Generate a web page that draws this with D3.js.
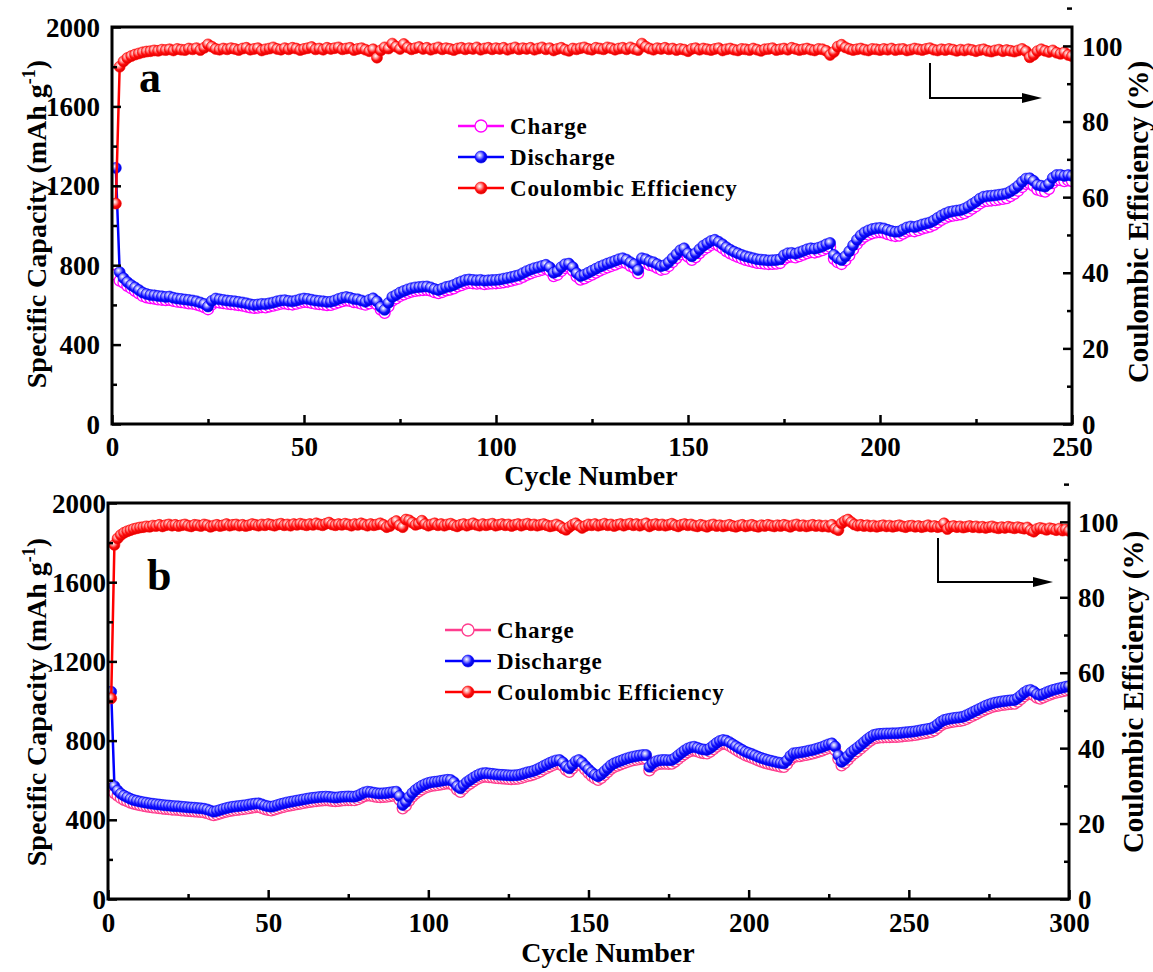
<!DOCTYPE html>
<html><head><meta charset="utf-8">
<script src="https://cdn.jsdelivr.net/npm/d3@7"></script>
<style>
html,body{margin:0;padding:0;background:#fff;}
text{font-family:"Liberation Serif","Times New Roman",serif;font-weight:bold;fill:#000;}
</style></head>
<body>
<svg id="chart" width="1153" height="972"></svg>
<script>
// ---------- DATA ----------
const seriesNames = ["Charge", "Discharge", "Coulombic Efficiency"];
const panelLabels = ["a", "b"];
const capTicks = [0, 400, 800, 1200, 1600, 2000];
const ceTicks = [0, 20, 40, 60, 80, 100];
const cycleTicksA = [0, 50, 100, 150, 200, 250];
const cycleTicksB = [0, 50, 100, 150, 200, 250, 300];

// Panel a (250 cycles)
const dischargeA = [1290,765,735,715,700,688,675,662,655,650,
648,645,643,640,642,636,632,630,627,625,
622,618,612,605,592,620,632,628,625,622,
620,618,615,612,608,603,600,602,605,604,
608,612,618,622,624,620,618,622,628,632,
630,626,622,620,618,615,616,622,630,636,
640,636,630,628,622,616,625,633,618,590,
575,610,640,650,662,670,678,684,688,690,
692,693,688,680,675,682,690,694,700,710,
718,725,728,726,724,726,722,724,725,726,
728,732,736,740,745,750,760,770,778,785,
790,796,802,790,762,770,790,805,808,790,
760,745,752,762,772,782,792,800,808,815,
822,830,835,828,815,805,776,835,830,820,
815,805,795,800,815,835,855,875,885,860,
845,860,880,898,910,922,928,918,905,890,
878,868,860,852,845,840,835,830,828,826,
824,825,826,830,850,860,862,858,865,872,
880,885,883,888,895,905,912,852,835,826,
845,870,900,928,950,965,975,982,986,988,
985,978,972,968,970,980,990,995,992,998,
1005,1010,1015,1025,1038,1050,1060,1068,1072,1075,
1078,1085,1095,1108,1120,1135,1145,1148,1150,1152,
1155,1158,1162,1172,1185,1200,1220,1236,1238,1225,
1205,1200,1196,1210,1240,1254,1255,1250,1254,1250];

const chargeA = [752,722,712,696,684,671,658,645,638,634,
632,628,626,624,625,620,616,614,611,608,
606,602,596,589,578,602,615,612,609,606,
604,602,599,596,592,588,585,586,589,588,
592,596,601,606,608,604,602,606,611,615,
614,610,606,604,602,599,600,606,613,619,
623,620,614,612,606,601,608,616,603,576,
560,592,622,633,645,653,661,667,671,673,
675,676,672,664,659,665,673,677,683,693,
700,707,711,709,707,709,705,707,708,709,
711,714,718,722,727,732,741,751,759,766,
771,777,783,772,745,752,771,786,790,773,
743,727,734,743,753,763,773,781,789,796,
803,811,816,810,797,787,760,815,812,802,
797,787,777,781,796,816,836,855,866,843,
827,841,861,878,890,902,908,899,886,871,
860,850,842,834,827,822,817,812,810,808,
806,807,808,811,831,841,843,839,846,853,
861,866,864,869,876,885,892,832,815,806,
825,849,879,907,929,944,954,961,965,967,
964,957,951,947,949,959,969,974,971,977,
984,989,994,1003,1016,1028,1038,1046,1050,1053,
1056,1062,1072,1085,1097,1111,1121,1124,1126,1128,
1131,1134,1138,1148,1160,1175,1194,1210,1212,1200,
1181,1175,1171,1185,1214,1228,1229,1224,1228,1224];

const ceA = [58.3,94.5,95.9,96.8,97.3,97.7,98.0,98.3,98.5,98.6,
98.8,98.7,99.0,98.9,99.1,98.8,99.2,99.0,98.9,99.3,
99.1,99.4,98.9,99.5,100.4,99.8,99.2,99.0,99.3,99.1,
99.4,99.2,98.9,99.3,99.5,99.0,99.2,99.4,98.8,99.1,
99.3,99.6,99.2,99.0,99.4,99.1,99.5,99.3,98.9,99.2,
99.4,99.7,99.1,99.3,99.0,99.5,99.2,99.4,99.6,99.1,
99.3,99.5,98.9,99.2,99.4,99.0,98.6,99.1,96.9,98.8,
99.6,99.3,100.6,99.8,99.2,100.5,99.6,99.1,99.4,99.7,
99.2,99.5,99.0,99.3,99.6,99.1,99.4,99.2,98.9,99.3,
99.5,99.1,99.4,99.2,99.6,99.0,99.3,99.5,99.1,99.4,
99.2,99.5,99.0,99.3,99.6,99.1,99.4,99.2,99.5,99.0,
99.3,99.6,99.1,99.4,98.8,99.2,99.5,99.0,98.7,99.3,
99.1,99.4,99.6,99.2,99.0,99.5,99.3,99.1,99.6,99.4,
99.0,99.3,99.5,99.1,99.6,99.2,98.9,100.6,99.8,99.3,
99.0,99.4,99.2,99.5,99.1,99.3,98.9,99.2,99.0,98.6,
99.2,99.4,99.0,99.3,99.1,98.9,99.2,99.4,98.8,99.1,
99.3,99.0,98.8,99.2,99.1,98.9,99.3,99.0,98.7,99.1,
99.2,99.4,98.9,99.1,99.3,99.0,99.5,99.2,98.9,99.1,
99.3,99.0,98.8,99.2,99.1,98.7,97.6,98.4,99.8,100.3,
99.6,99.2,98.9,99.1,99.3,99.0,98.8,99.2,99.1,98.9,
99.2,99.0,99.3,98.9,99.1,99.2,98.8,99.0,99.3,99.1,
98.9,99.2,99.4,99.0,98.8,99.1,98.9,99.2,99.0,98.7,
99.0,98.8,99.1,98.9,98.6,98.9,99.1,98.7,98.5,98.8,
99.0,98.6,98.9,98.7,98.5,98.8,99.2,98.6,97.0,97.6,
98.6,99.1,98.7,98.4,98.8,98.2,97.9,98.3,97.6,97.3];

// Panel b (300 cycles)
const dischargeB = [1047,570,548,532,522,514,506,500,496,492,
489,486,483,481,479,477,475,473,472,470,
469,468,466,465,463,462,461,459,458,456,
452,446,441,445,450,455,459,463,466,468,
470,472,474,477,480,482,483,478,472,468,
466,470,475,480,484,488,491,494,497,500,
503,506,509,511,513,515,516,517,516,514,
512,514,516,517,518,517,517,522,530,538,
542,540,537,534,533,534,535,538,540,542,
520,475,490,515,535,550,562,572,580,586,
590,592,594,597,600,602,601,590,570,559,
575,590,601,612,622,630,635,636,634,632,
630,628,627,626,625,624,625,626,630,635,
640,643,648,655,663,672,680,688,695,700,
702,690,670,660,678,695,702,690,672,655,
640,628,620,630,645,660,675,685,692,698,
704,710,715,719,722,725,727,727,668,685,
695,700,702,702,701,702,712,725,738,750,
760,766,769,764,758,755,753,762,775,788,
798,803,800,792,782,772,762,753,744,738,
732,725,718,712,707,702,698,694,690,687,
685,700,722,736,738,740,743,746,750,753,
758,763,768,775,781,786,770,725,693,705,
722,740,753,765,778,792,806,818,828,832,
834,835,836,836,837,837,838,840,842,843,
845,847,850,853,856,859,862,870,882,895,
904,908,911,914,916,918,921,928,936,944,
952,960,968,976,982,988,992,995,998,1000,
1002,1004,1005,1015,1028,1042,1052,1056,1048,1035,
1030,1036,1044,1050,1056,1060,1064,1068,1072,1075];

const chargeB = [557,535,522,510,501,494,487,482,478,474,
471,468,465,463,461,459,457,455,454,452,
451,450,448,447,445,444,443,441,440,438,
434,428,424,427,432,437,441,445,448,450,
452,454,456,459,462,464,465,460,454,450,
448,452,457,462,466,470,473,476,479,482,
485,488,491,493,495,497,498,499,498,496,
494,496,498,499,500,499,499,504,512,520,
524,522,519,516,515,516,517,520,522,524,
502,458,472,497,517,532,544,554,562,568,
572,574,576,579,582,584,583,572,552,541,
557,572,583,594,604,612,617,618,616,614,
612,610,609,608,607,606,607,608,612,617,
622,625,630,637,645,654,662,670,677,682,
684,672,652,642,660,677,684,672,654,637,
622,610,602,612,627,642,657,667,674,680,
686,692,697,701,704,707,709,709,650,667,
677,682,684,684,683,684,694,707,720,732,
742,748,751,746,740,737,735,744,757,770,
780,785,782,774,764,754,744,735,726,720,
714,707,700,694,689,684,680,676,672,669,
667,682,704,718,720,722,725,728,732,735,
740,745,750,757,763,768,752,707,675,687,
704,722,735,747,760,774,788,800,810,814,
816,817,818,818,819,819,820,822,824,825,
827,829,832,835,838,841,844,852,864,877,
886,890,893,896,898,900,903,910,918,926,
934,942,950,958,964,970,974,977,980,982,
984,986,987,997,1010,1024,1034,1038,1030,1017,
1012,1018,1026,1032,1038,1042,1046,1050,1054,1057];

const ceB = [53.2,93.9,95.6,96.5,97.1,97.5,97.8,98.1,98.3,98.5,
98.6,98.8,98.7,99.0,98.9,99.2,98.8,99.1,99.3,99.0,
99.2,98.9,99.1,99.3,99.0,98.8,99.2,99.1,98.9,99.3,
99.1,98.7,99.0,99.2,98.9,99.1,99.4,99.0,99.2,99.3,
99.0,99.2,98.9,99.1,99.4,99.2,99.0,99.3,99.1,99.4,
99.2,99.0,99.3,99.5,99.1,99.3,99.0,99.4,99.2,99.5,
99.3,99.1,99.4,99.2,99.6,99.3,99.1,99.5,99.8,99.3,
99.1,99.4,99.2,99.5,99.3,99.0,99.4,99.2,99.6,99.3,
99.0,99.4,99.1,99.3,99.6,99.2,98.6,98.9,99.7,100.2,
99.1,98.6,100.6,100.4,99.8,99.2,99.5,100.3,99.4,99.0,
99.3,99.6,99.1,99.4,99.0,99.3,99.5,99.1,98.8,99.2,
99.4,99.0,99.3,99.6,99.2,99.0,99.4,99.1,99.3,99.5,
99.0,99.2,99.4,99.1,99.3,98.9,99.2,99.4,99.0,99.3,
99.5,99.1,99.3,99.0,99.2,99.4,99.1,98.8,99.0,99.3,
98.9,98.3,97.9,98.6,99.2,99.6,99.0,98.4,98.9,99.3,
99.1,99.4,99.0,99.2,99.5,99.1,99.3,98.9,99.2,99.4,
99.0,99.3,99.5,99.1,99.4,99.0,99.3,99.6,98.8,99.2,
99.4,99.1,99.3,99.0,99.2,99.5,99.1,98.8,99.2,99.4,
99.1,99.3,99.0,98.8,99.2,99.0,98.7,99.1,99.3,98.9,
99.1,98.8,99.0,99.2,98.9,98.7,99.0,99.2,98.8,99.0,
99.2,98.9,98.7,99.1,98.9,99.2,99.0,98.8,99.1,98.9,
99.2,99.0,98.7,99.1,99.3,98.9,99.1,98.8,99.0,99.2,
98.9,99.1,98.8,99.0,98.7,99.2,98.2,97.8,99.6,100.2,
100.6,99.9,99.3,99.0,99.2,98.9,99.1,98.8,99.0,98.7,
98.9,99.1,98.8,99.0,98.7,98.9,99.1,98.8,98.6,98.9,
99.0,98.7,98.9,98.6,98.8,99.1,98.7,98.9,98.6,98.8,
99.6,98.1,98.7,98.9,98.6,98.8,98.5,98.7,98.9,98.6,
98.8,98.5,98.7,98.4,98.6,98.8,98.5,98.3,98.6,98.4,
98.7,98.5,98.3,98.6,98.4,98.2,98.5,97.8,97.4,98.1,
98.4,98.2,97.9,98.3,98.1,97.8,98.2,97.7,98.0,97.6];

// ---------- DRAW ----------
const FONT = '"Liberation Serif","Times New Roman",serif';
const svg = d3.select("#chart");
const defs = svg.append("defs");
function grad(id, c0, c1, c2){
  const g = defs.append("radialGradient").attr("id", id)
    .attr("cx","40%").attr("cy","38%").attr("r","62%").attr("fx","38%").attr("fy","35%");
  g.append("stop").attr("offset","0%").attr("stop-color","#ffffff");
  g.append("stop").attr("offset","30%").attr("stop-color",c0);
  g.append("stop").attr("offset","65%").attr("stop-color",c1);
  g.append("stop").attr("offset","100%").attr("stop-color",c2);
}
grad("gBlue","#9a9aff","#1010ff","#0000d0");
grad("gRed","#ffa0a0","#ff1010","#d80000");

const panels = [
  {label: panelLabels[0], L:112, R:1072, T:27, B:424, xmax:250, xticks:cycleTicksA,
   charge: chargeA, discharge: dischargeA, ce: ceA, chargeColor:"#ff00ff",
   leftPad:12, bottomBase:456, rightPad:10,
   xTitle:[591,485], yTitle:[36,224], rTitle:[1138,222],
   letter:[139,92], legend:[458,126], arrow:[930,63,98,1042]},
  {label: panelLabels[1], L:108, R:1069, T:503, B:899, xmax:300, xticks:cycleTicksB,
   charge: chargeB, discharge: dischargeB, ce: ceB, chargeColor:"#ff3d8e",
   leftPad:2, bottomBase:932, rightPad:9,
   xTitle:[608,962], yTitle:[36,702], rTitle:[1133,692],
   letter:[147,590], legend:[445,630], arrow:[938,538,582,1053]}
];

panels.forEach((p, pi) => {
  const g = svg.append("g");
  const x = d3.scaleLinear().domain([0, p.xmax]).range([p.L, p.R]);
  const y = d3.scaleLinear().domain([0, 2000]).range([p.B, p.T]);
  const y2 = d3.scaleLinear().domain([0, 105]).range([p.B, p.T]);

  const clipId = "clip" + pi;
  defs.append("clipPath").attr("id", clipId).append("rect")
    .attr("x", p.L).attr("y", p.T).attr("width", p.R - p.L).attr("height", p.B - p.T);

  const plot = g.append("g").attr("clip-path", `url(#${clipId})`);
  function series(vals, scale, color, fill, r, sw){
    const pts = vals.map((v,i)=>[i+1, v]);
    plot.append("path").datum(pts)
      .attr("d", d3.line().x(d=>x(d[0])).y(d=>scale(d[1])))
      .attr("fill","none").attr("stroke",color).attr("stroke-width",2.5);
    plot.append("g").selectAll("circle").data(pts).join("circle")
      .attr("cx", d=>x(d[0])).attr("cy", d=>scale(d[1])).attr("r", r)
      .attr("fill", fill).attr("stroke", color).attr("stroke-width", sw);
  }
  series(p.charge, y, p.chargeColor, "#ffffff", 5.5, 1.3);
  series(p.discharge, y, "#0000ff", "url(#gBlue)", 5.5, 0.6);
  series(p.ce, y2, "#ff0000", "url(#gRed)", 5.5, 0.6);

  // axes
  const fontSize = 27;
  const axL = g.append("g").attr("transform", `translate(${p.L},0)`)
    .call(d3.axisLeft(y).tickValues(capTicks).tickSize(-9).tickPadding(p.leftPad).tickFormat(d3.format("d")));
  g.append("g").attr("transform", `translate(${p.L},0)`)
    .call(d3.axisLeft(y).tickValues(capTicks.slice(0,-1).map((d,i)=>(d+capTicks[i+1])/2)).tickSize(-5).tickFormat(""));
  const axR = g.append("g").attr("transform", `translate(${p.R},0)`)
    .call(d3.axisRight(y2).tickValues(ceTicks).tickSize(-9).tickPadding(p.rightPad).tickFormat(d3.format("d")));
  g.append("g").attr("transform", `translate(${p.R},0)`)
    .call(d3.axisRight(y2).tickValues(ceTicks.map(d=>d+10)).tickSize(-5).tickFormat(""));
  const axB = g.append("g").attr("transform", `translate(0,${p.B})`)
    .call(d3.axisBottom(x).tickValues(p.xticks).tickSize(-9).tickPadding(0).tickFormat(d3.format("d")));
  g.append("g").attr("transform", `translate(0,${p.B})`)
    .call(d3.axisBottom(x).tickValues(p.xticks.slice(0,-1).map((d,i)=>(d+p.xticks[i+1])/2)).tickSize(-5).tickFormat(""));

  g.selectAll(".domain").remove();
  g.selectAll(".tick line").attr("stroke","#000").attr("stroke-width",2.5);
  g.selectAll(".tick text").style("font-size", fontSize+"px").style("font-family",FONT).style("font-weight","bold").attr("fill","#000");
  axB.selectAll(".tick text").attr("y", null).attr("dy", null)
    .attr("transform", `translate(0,${p.bottomBase - p.B})`);
  axL.selectAll(".tick text").attr("dy","0.34em");
  axR.selectAll(".tick text").attr("dy","0.34em");

  // frame
  g.append("rect").attr("x",p.L).attr("y",p.T).attr("width",p.R-p.L).attr("height",p.B-p.T)
    .attr("fill","none").attr("stroke","#000").attr("stroke-width",3);

  // titles
  g.append("text").attr("x",p.xTitle[0]).attr("y",p.xTitle[1]).attr("text-anchor","middle")
    .style("font-size","28px").text("Cycle Number");
  const yt = g.append("text").attr("transform",`translate(${p.yTitle[0]},${p.yTitle[1]}) rotate(-90)`)
    .attr("text-anchor","middle").attr("dy","0.35em").style("font-size","28px");
  yt.append("tspan").text("Specific Capacity (mAh g");
  yt.append("tspan").attr("dy","-11").style("font-size","18px").text("-1");
  yt.append("tspan").attr("dy","11").text(")");
  g.append("text").attr("transform",`translate(${p.rTitle[0]},${p.rTitle[1]}) rotate(-90)`)
    .attr("text-anchor","middle").attr("dy","0.35em").style("font-size","29px")
    .text("Coulombic Efficiency (%)");

  // panel letter
  g.append("text").attr("x",p.letter[0]).attr("y",p.letter[1]).style("font-size","44px").text(p.label);

  // legend
  const legColors = [p.chargeColor, "#0000ff", "#ff0000"];
  const legFills = ["#ffffff", "url(#gBlue)", "url(#gRed)"];
  seriesNames.forEach((name, i) => {
    const ly = p.legend[1] + i*31;
    const lx = p.legend[0];
    g.append("line").attr("x1",lx).attr("x2",lx+46).attr("y1",ly).attr("y2",ly)
      .attr("stroke",legColors[i]).attr("stroke-width",2.5);
    g.append("circle").attr("cx",lx+23).attr("cy",ly).attr("r",6)
      .attr("fill",legFills[i]).attr("stroke",legColors[i]).attr("stroke-width", i===0?1.3:0.6);
    g.append("text").attr("x",lx+52).attr("y",ly).attr("dy","0.35em")
      .style("font-size","23px").style("letter-spacing","0.8px").text(name);
  });

  // arrow pointing to right axis
  const a = p.arrow;
  g.append("path").attr("d",`M${a[0]},${a[1]} V${a[2]} H${a[3]-16}`)
    .attr("fill","none").attr("stroke","#000").attr("stroke-width",2);
  g.append("path").attr("d",`M${a[3]-20},${a[2]-5} L${a[3]},${a[2]} L${a[3]-20},${a[2]+5} Z`).attr("fill","#000");
});
</script>
</body></html>
